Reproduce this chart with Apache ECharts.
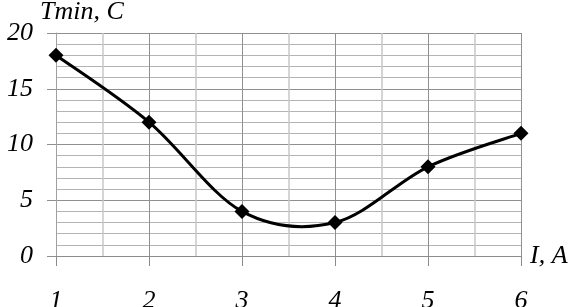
<!DOCTYPE html>
<html><head><meta charset="utf-8">
<script src="https://cdn.jsdelivr.net/npm/echarts@6/dist/echarts.min.js"></script>
<style>html,body{margin:0;padding:0;background:#fff}#c{width:572px;height:307px}</style>
</head><body><div id="c"></div>
<script>
const currentA = [1, 2, 3, 4, 5, 6];
const tminC = [18, 12, 4, 3, 8, 11];
const yName = 'Tmin, C';
const xName = 'I, A';
const font = {fontFamily: "'Liberation Serif', 'Times New Roman', serif", fontStyle: 'italic', fontSize: 26, color: '#000'};
const pts = currentA.map((x, i) => [x, tminC[i]]);
const chart = echarts.init(document.getElementById('c'));
function renderCurve(params, api) {
  if (params.dataIndex !== 0) return null;
  const p = pts.map(d => api.coord(d));
  const n = p.length;
  let d = 'M' + p[0][0] + ' ' + p[0][1];
  for (let i = 0; i < n - 1; i++) {
    const p0 = p[Math.max(i - 1, 0)], p1 = p[i], p2 = p[i + 1], p3 = p[Math.min(i + 2, n - 1)];
    const c1 = [p1[0] + (p2[0] - p0[0]) / 6, p1[1] + (p2[1] - p0[1]) / 6];
    const c2 = [p2[0] - (p3[0] - p1[0]) / 6, p2[1] - (p3[1] - p1[1]) / 6];
    d += ' C' + c1[0] + ' ' + c1[1] + ' ' + c2[0] + ' ' + c2[1] + ' ' + p2[0] + ' ' + p2[1];
  }
  return {type: 'path', shape: {pathData: d}, style: {fill: null, stroke: '#000', lineWidth: 3}};
}
chart.setOption({
  animation: false,
  grid: {left: 56, right: 51, top: 33, bottom: 51, containLabel: false, outerBoundsMode: 'none'},
  xAxis: {
    type: 'value', min: 1, max: 6, interval: 1,
    name: xName, nameLocation: 'end', nameGap: 9,
    nameTextStyle: Object.assign({}, font, {verticalAlign: 'middle'}),
    axisLine: {show: true, lineStyle: {color: '#8c8c8c', width: 1}},
    axisTick: {show: true, length: 10, lineStyle: {color: '#8c8c8c'}},
    axisLabel: Object.assign({}, font, {margin: 32}),
    splitLine: {show: true, lineStyle: {color: '#909090', width: 1}},
    minorTick: {show: false, splitNumber: 2},
    minorSplitLine: {show: true, lineStyle: {color: '#c8c8c8', width: 1.5}}
  },
  yAxis: {
    type: 'value', min: 0, max: 20, interval: 5,
    name: yName, nameLocation: 'end', nameGap: 8,
    nameTextStyle: Object.assign({}, font, {align: 'left', padding: [0, 0, 0, -16]}),
    axisLine: {show: true, lineStyle: {color: '#a0a0a0', width: 1}},
    axisTick: {show: true, length: 9, lineStyle: {color: '#909090'}},
    axisLabel: Object.assign({}, font, {margin: 23}),
    splitLine: {show: true, lineStyle: {color: '#909090', width: 1}},
    minorTick: {show: false, splitNumber: 5},
    minorSplitLine: {show: true, lineStyle: {color: '#b4b4b4', width: 1}}
  },
  series: [{
    type: 'custom',
    data: pts,
    renderItem: renderCurve,
    z: 2,
    silent: true
  }, {
    type: 'scatter',
    data: pts,
    symbol: 'diamond', symbolSize: 15,
    itemStyle: {color: '#000', opacity: 1},
    z: 3
  }]
});
</script></body></html>
